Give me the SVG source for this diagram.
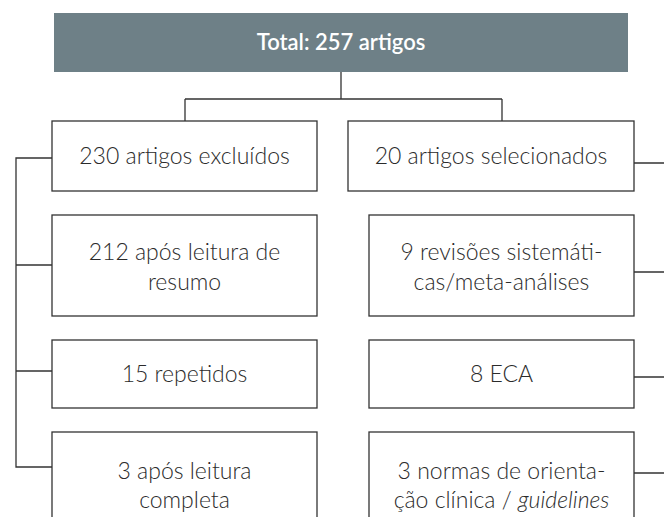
<svg xmlns="http://www.w3.org/2000/svg" width="664" height="517" viewBox="0 0 664 517">
<style>
.box{fill:#ffffff;stroke:#333333;stroke-width:1.3}
.t{font-family:Lato,"Open Sans","Liberation Sans",sans-serif;font-weight:300;font-size:23px;fill:#2b2b2b;text-anchor:middle}
.h{font-family:Lato,"Open Sans","Liberation Sans",sans-serif;font-weight:600;font-size:22px;fill:#ffffff;text-anchor:middle}
.c{fill:none;stroke:#333333;stroke-width:1.3}
</style>
<rect width="664" height="517" fill="#ffffff"/>
<g id="connectors">
<path class="c" d="M341 72 V99 M185 99 H502 M185 99 V121 M502 99 V121"/>
<path class="c" d="M52 158 H16 V467 H52 M16 265 H52 M16 371 H52"/>
<path class="c" d="M634 163 H664 M634 272 H664 M634 377 H664 M634 473 H664"/>
</g>
<g id="total">
<rect x="54" y="13" width="574" height="59" fill="#6e8087"/>
<text class="h" x="341" y="50">Total: 257 artigos</text>
</g>
<g id="excluidos">
<rect class="box" x="52" y="121" width="265" height="70"/>
<text class="t" x="184.5" y="164">230 artigos excluídos</text>
</g>
<g id="selecionados">
<rect class="box" x="348" y="121" width="286" height="70"/>
<text class="t" x="491" y="164">20 artigos selecionados</text>
</g>
<g id="resumo">
<rect class="box" x="52" y="215" width="265" height="101"/>
<text class="t" x="184.5" y="260">212 após leitura de</text>
<text class="t" x="184.5" y="290">resumo</text>
</g>
<g id="revisoes">
<rect class="box" x="369" y="215" width="265" height="101"/>
<text class="t" x="501.5" y="260">9 revisões sistemáti-</text>
<text class="t" x="501.5" y="290">cas/meta-análises</text>
</g>
<g id="repetidos">
<rect class="box" x="52" y="340" width="265" height="68"/>
<text class="t" x="184.5" y="382">15 repetidos</text>
</g>
<g id="eca">
<rect class="box" x="369" y="340" width="265" height="68"/>
<text class="t" x="501.5" y="382">8 ECA</text>
</g>
<g id="completa">
<rect class="box" x="52" y="432" width="265" height="100"/>
<text class="t" x="184.5" y="479">3 após leitura</text>
<text class="t" x="184.5" y="508">completa</text>
</g>
<g id="normas">
<rect class="box" x="369" y="432" width="265" height="100"/>
<text class="t" x="501.5" y="479">3 normas de orienta-</text>
<text class="t" x="501.5" y="508">ção clínica / <tspan font-style="italic">guidelines</tspan></text>
</g>
</svg>
